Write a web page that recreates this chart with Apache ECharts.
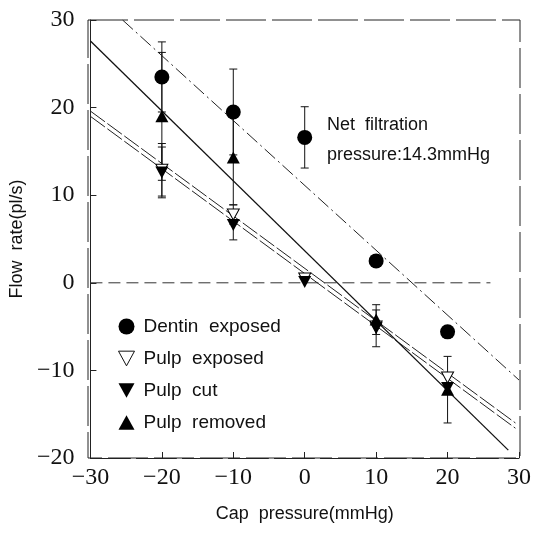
<!DOCTYPE html>
<html>
<head>
<meta charset="utf-8">
<script src="https://cdn.jsdelivr.net/npm/echarts@6/dist/echarts.min.js"></script>
<style>
html,body{margin:0;padding:0;background:#fff;}
#c{width:534px;height:533px;}
</style>
</head>
<body>
<div id="c"></div>
<script>
// ---- data ----
const capPressure = [-20, -10, 0, 10, 20];
const dentinExposed = [23.5, 19.5, 16.6, 2.5, -5.6];
const dentinErr = [4.0, 4.9, 3.5, 0, 0];
const pulpExposed = [12.9, 7.8, 0.5, -5.0, -10.8];
const pulpExposedErr = [3.0, 1.1, 0, 0, 0];
const pulpCut = [12.6, 6.6, 0.1, -5.2, -12.0];
const pulpCutErr = [2.9, 1.7, 0, 2.1, 0];
const pulpRemoved = [19.0, 14.3, null, -4.2, -12.2];
const pulpRemovedErr = [7.3, 5.4, 0, 1.7, 3.8];
// fitted lines (end points)
const dentinFit = [[-25.5, 30], [30, -11.1]];
const pulpExposedFit = [[-30, 19.6], [29.5, -16.0]];
const pulpCutFit = [[-30, 19.0], [29.5, -16.6]];
const pulpRemovedFit = [[-30, 27.6], [28.5, -19.1]];
const zeroLine = [[-30, 0], [26, 0]];
const xTicks = [-30, -20, -10, 0, 10, 20, 30];
const yTicks = [-20, -10, 0, 10, 20, 30];
const annotation = ['Net  filtration', 'pressure:14.3mmHg'];

const pts = (vals) => capPressure.map((x, i) => vals[i] == null ? null : [x, vals[i]]).filter(Boolean);
const errs = (vals, e) => capPressure.map((x, i) => (vals[i] == null || !e[i]) ? null : [x, vals[i] - e[i], vals[i] + e[i]]).filter(Boolean);

const downTri = 'path://M0,0 L12,0 L6,11 Z';
const upTri = 'path://M6,0 L12,11 L0,11 Z';

function errRender(params, api) {
  const x = api.value(0);
  const lo = api.coord([x, api.value(1)]);
  const hi = api.coord([x, api.value(2)]);
  const c = 4;
  const st = {stroke: '#111', lineWidth: 1};
  return {type: 'group', children: [
    {type: 'line', shape: {x1: lo[0], y1: lo[1], x2: hi[0], y2: hi[1]}, style: st},
    {type: 'line', shape: {x1: lo[0] - c, y1: lo[1], x2: lo[0] + c, y2: lo[1]}, style: st},
    {type: 'line', shape: {x1: hi[0] - c, y1: hi[1], x2: hi[0] + c, y2: hi[1]}, style: st}
  ]};
}

const minus = (v) => v < 0 ? '\u2212' + Math.abs(v) : String(v);
const serif = 'Liberation Serif';
const sans = 'Liberation Sans';

const chart = echarts.init(document.getElementById('c'), null, {renderer: 'canvas'});
chart.setOption({
  animation: false,
  backgroundColor: '#fff',
  grid: {left: 88, right: 14, top: 20, bottom: 75, show: false},
  xAxis: {
    type: 'value', min: -30, max: 30, interval: 10,
    axisLine: {show: true, onZero: false, lineStyle: {color: '#222', width: 1, type: [40, 6]}},
    axisTick: {show: true, inside: true, length: 6, lineStyle: {color: '#222'}},
    axisLabel: {fontFamily: serif, fontSize: 24, color: '#111', margin: 8, formatter: minus},
    splitLine: {show: false},
    name: 'Cap  pressure(mmHg)', nameLocation: 'middle', nameGap: 47,
    nameTextStyle: {fontFamily: sans, fontSize: 18, color: '#111'}
  },
  yAxis: {
    type: 'value', min: -20, max: 30, interval: 10,
    axisLine: {show: true, onZero: false, lineStyle: {color: '#222', width: 1}},
    axisTick: {show: true, inside: true, length: 6, lineStyle: {color: '#222'}},
    axisLabel: {fontFamily: serif, fontSize: 24, color: '#111', margin: 16, formatter: minus},
    splitLine: {show: false},
    name: 'Flow  rate(pl/s)', nameLocation: 'middle', nameGap: 56, nameRotate: 90,
    nameTextStyle: {fontFamily: sans, fontSize: 18, color: '#111'}
  },
  legend: {
    orient: 'vertical', left: 113, top: 312, itemGap: 13, itemWidth: 16, itemHeight: 16,
    textStyle: {fontFamily: sans, fontSize: 19, color: '#111', padding: [0, 0, 0, 4]},
    data: [
      {name: 'Dentin  exposed', icon: 'circle'},
      {name: 'Pulp  exposed', icon: downTri, itemStyle: {color: '#fff', borderColor: '#111', borderWidth: 1}},
      {name: 'Pulp  cut', icon: downTri},
      {name: 'Pulp  removed', icon: upTri}
    ]
  },
  graphic: [
    {type: 'rect', shape: {x: 88, y: 20, width: 432, height: 438}, style: {fill: 'none', stroke: '#222', lineWidth: 1, lineDash: [40, 6]}, silent: true, z: 0},
    {type: 'text', left: 327, top: 116, style: {text: annotation[0], fontFamily: sans, fontSize: 18, fill: '#111'}},
    {type: 'text', left: 327, top: 146, style: {text: annotation[1], fontFamily: sans, fontSize: 18, fill: '#111'}}
  ],
  series: [
    {name: 'zero', type: 'line', data: zeroLine, symbol: 'none', lineStyle: {color: '#333', width: 1, type: [12, 6]}, silent: true},
    {name: 'dentinFit', type: 'line', data: dentinFit, symbol: 'none', lineStyle: {color: '#222', width: 1, type: [14, 4, 2, 4]}, silent: true},
    {name: 'pulpExposedFit', type: 'line', data: pulpExposedFit, symbol: 'none', lineStyle: {color: '#222', width: 1, type: [18, 3]}, silent: true},
    {name: 'pulpCutFit', type: 'line', data: pulpCutFit, symbol: 'none', lineStyle: {color: '#222', width: 1, type: [18, 3]}, silent: true},
    {name: 'pulpRemovedFit', type: 'line', data: pulpRemovedFit, symbol: 'none', lineStyle: {color: '#111', width: 1.3}, silent: true},
    {name: 'errDentin', type: 'custom', renderItem: errRender, data: errs(dentinExposed, dentinErr), silent: true, z: 3},
    {name: 'errPE', type: 'custom', renderItem: errRender, data: errs(pulpExposed, pulpExposedErr), silent: true, z: 3},
    {name: 'errPC', type: 'custom', renderItem: errRender, data: errs(pulpCut, pulpCutErr), silent: true, z: 3},
    {name: 'errPR', type: 'custom', renderItem: errRender, data: errs(pulpRemoved, pulpRemovedErr), silent: true, z: 3},
    {name: 'Dentin  exposed', type: 'scatter', data: pts(dentinExposed), symbol: 'circle', symbolSize: 15, itemStyle: {color: '#000', opacity: 1}, z: 5},
    {name: 'Pulp  exposed', type: 'scatter', data: pts(pulpExposed), symbol: downTri, symbolSize: [12, 11], itemStyle: {color: '#fff', borderColor: '#000', borderWidth: 1, opacity: 1}, z: 5},
    {name: 'Pulp  cut', type: 'scatter', data: pts(pulpCut), symbol: downTri, symbolSize: [13, 12], itemStyle: {color: '#000', opacity: 1}, z: 6},
    {name: 'Pulp  removed', type: 'scatter', data: pts(pulpRemoved), symbol: upTri, symbolSize: [13, 12], itemStyle: {color: '#000', opacity: 1}, z: 6}
  ]
});
</script>
</body>
</html>
